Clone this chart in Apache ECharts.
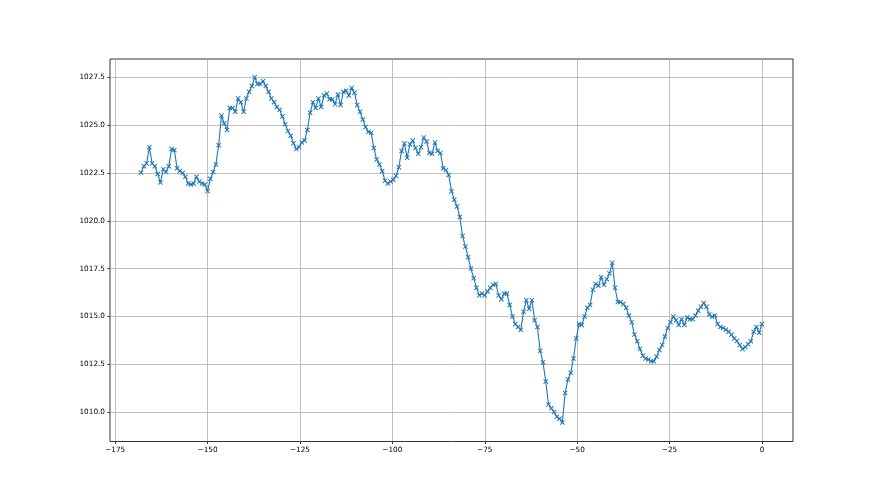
<!DOCTYPE html>
<html>
<head>
<meta charset="utf-8">
<script src="https://cdn.jsdelivr.net/npm/echarts@6/dist/echarts.min.js"></script>
<style>
html,body{margin:0;padding:0;background:#fff;}
#chart{width:880px;height:495px;}
</style>
</head>
<body>
<div id="chart"></div>
<script>
// Time axis: hours before now, one reading every 0.75 h from -168 h to 0 h
const START_HOUR = -168;
const STEP_HOURS = 0.75;

// Pressure readings (hPa)
const pressure = [
  1022.52, 1022.85, 1023.0, 1023.85, 1023.0, 1022.85, 1022.45, 1022.0, 1022.7, 1022.55,
  1022.85, 1023.75, 1023.7, 1022.75, 1022.6, 1022.5, 1022.3, 1021.95, 1021.9, 1021.95,
  1022.3, 1022.05, 1021.95, 1021.9, 1021.55, 1022.2, 1022.55, 1022.95, 1023.95, 1025.5,
  1025.1, 1024.75, 1025.9, 1025.9, 1025.7, 1026.4, 1026.2, 1025.7, 1026.4, 1026.75,
  1027.05, 1027.5, 1027.15, 1027.15, 1027.3, 1027.05, 1026.75, 1026.4, 1026.2, 1025.95,
  1025.8, 1025.45, 1025.05, 1024.7, 1024.45, 1024.05, 1023.75, 1023.85, 1024.1, 1024.2,
  1024.75, 1025.65, 1026.2, 1025.9, 1026.4, 1025.95, 1026.55, 1026.65, 1026.35, 1026.35,
  1026.1, 1026.6, 1026.05, 1026.75, 1026.8, 1026.55, 1026.95, 1026.7, 1026.05, 1025.7,
  1025.3, 1024.9, 1024.65, 1024.6, 1023.8, 1023.2, 1022.95, 1022.6, 1022.1, 1021.95,
  1022.05, 1022.15, 1022.35, 1022.8, 1023.65, 1024.05, 1023.3, 1024.0, 1024.2, 1023.8,
  1023.5, 1023.85, 1024.35, 1024.15, 1023.55, 1023.5, 1024.1, 1023.65, 1023.55, 1022.75,
  1022.65, 1022.4, 1021.55, 1021.1, 1020.75, 1020.2, 1019.2, 1018.65, 1018.1, 1017.5,
  1017.0, 1016.5, 1016.1, 1016.2, 1016.1, 1016.3, 1016.5, 1016.65, 1016.7, 1016.1,
  1015.9, 1016.2, 1016.2, 1015.6, 1015.0, 1014.6, 1014.45, 1014.3, 1015.25, 1015.85,
  1015.4, 1015.85, 1014.8, 1014.45, 1013.2, 1012.6, 1011.6, 1010.4, 1010.2, 1010.0,
  1009.75, 1009.65, 1009.45, 1011.0, 1011.7, 1012.05, 1012.8, 1013.85, 1014.6, 1014.55,
  1015.0, 1015.45, 1015.6, 1016.4, 1016.7, 1016.6, 1017.05, 1016.65, 1016.95, 1017.25,
  1017.8, 1016.5, 1015.75, 1015.75, 1015.65, 1015.45, 1015.05, 1014.7, 1014.05, 1013.7,
  1013.3, 1012.95, 1012.8, 1012.75, 1012.65, 1012.65, 1012.9, 1013.25, 1013.5, 1013.95,
  1014.4, 1014.7, 1015.0, 1014.8, 1014.55, 1014.85, 1014.55, 1014.95, 1014.85, 1014.85,
  1015.05, 1015.3, 1015.5, 1015.7, 1015.5, 1015.1, 1014.98, 1015.05, 1014.6, 1014.45,
  1014.4, 1014.3, 1014.2, 1014.05, 1013.85, 1013.72, 1013.5, 1013.3, 1013.4, 1013.55,
  1013.7, 1014.2, 1014.45, 1014.15, 1014.6
];

// Tick labels
const xTicks = [-175, -150, -125, -100, -75, -50, -25, 0];
const yTicks = [1010.0, 1012.5, 1015.0, 1017.5, 1020.0, 1022.5, 1025.0, 1027.5];

const hours = pressure.map((_, i) => START_HOUR + i * STEP_HOURS);
const seriesData = hours.map((h, i) => [h, pressure[i]]);

const X_MARKER = 'path://M0,1.4L1.4,0L5,3.6L8.6,0L10,1.4L6.4,5L10,8.6L8.6,10L5,6.4L1.4,10L0,8.6L3.6,5Z';
const LABEL_FONT = { fontFamily: 'DejaVu Sans', fontSize: 7.3, color: '#000' };
const GRID_LINE = { color: '#b0b0b0', width: 0.8 };
const TICK_LINE = { color: '#000', width: 0.8 };

const chart = echarts.init(document.getElementById('chart'), null, { renderer: 'canvas' });
chart.setOption({
  animation: false,
  backgroundColor: '#fff',
  grid: {
    left: 110, right: 87, top: 59, bottom: 53.5,
    show: true, borderColor: '#000', borderWidth: 0.8, backgroundColor: 'transparent'
  },
  xAxis: {
    type: 'value',
    min: -176.4, max: 8.4,
    axisLine: { show: false, onZero: false },
    axisTick: { show: true, inside: false, length: 2.5, lineStyle: TICK_LINE, customValues: xTicks },
    axisLabel: Object.assign({
      customValues: xTicks,
      margin: 5,
      formatter: v => String(v).replace('-', '\u2212')
    }, LABEL_FONT),
    splitLine: { show: true, lineStyle: GRID_LINE }
  },
  yAxis: {
    type: 'value',
    min: 1008.46, max: 1028.46,
    axisLine: { show: false, onZero: false },
    axisTick: { show: true, inside: false, length: 2.5, lineStyle: TICK_LINE, customValues: yTicks },
    axisLabel: Object.assign({
      customValues: yTicks,
      margin: 5,
      formatter: v => Number(v).toFixed(1)
    }, LABEL_FONT),
    splitLine: { show: true, lineStyle: GRID_LINE }
  },
  series: [{
    type: 'line',
    data: seriesData,
    symbol: X_MARKER,
    symbolSize: 5,
    showAllSymbol: true,
    itemStyle: { color: '#1f77b4' },
    lineStyle: { color: '#1f77b4', width: 1.1 },
    emphasis: { disabled: true },
    z: 3
  }]
});
</script>
</body>
</html>
